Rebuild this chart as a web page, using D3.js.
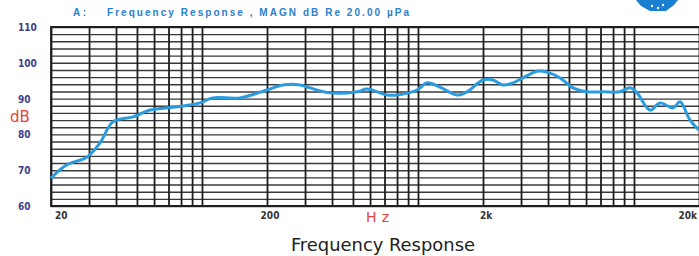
<!DOCTYPE html>
<html>
<head>
<meta charset="utf-8">
<script src="https://cdn.jsdelivr.net/npm/d3@7"></script>
<style>
  body { margin: 0; background: #fff; }
  svg { display: block; }
</style>
</head>
<body>
<svg id="chart" width="699" height="256"></svg>
<script>
var freqs = [20, 23.7, 29.4, 33.7, 38.7, 47.9, 57.5, 76.6, 98, 112, 150, 200, 237, 284, 316, 391,
  522, 581, 719, 800, 990, 1100, 1264, 1516, 1686, 2000, 2224, 2477, 2754, 3062, 3594, 3957,
  4546, 5222, 6060, 7186, 8612, 9586, 10328, 11858, 13196, 15158, 16340, 18172, 20000];
var dbs = [67.8, 71.5, 73.7, 77.6, 83.5, 84.9, 86.8, 87.7, 88.8, 90.2, 90.2, 92.4, 93.8, 93.8, 93, 91.6,
  91.9, 92.7, 91, 91, 92.4, 94.4, 93.2, 91, 91.9, 95.2, 95.2, 93.8, 94.4, 95.8, 97.7, 97.4,
  95.8, 93, 91.9, 91.9, 91.9, 93, 91.6, 86.8, 88.8, 87.4, 89.1, 84, 81.2];

var gridFreqs = [20, 30, 40, 50, 60, 70, 80, 90, 100, 200, 300, 400, 500, 600, 700, 800, 900,
  1000, 2000, 3000, 4000, 5000, 6000, 7000, 8000, 9000, 10000, 20000];
var gridDbs = d3.range(60, 111, 2);
var yLabels = [60, 70, 80, 90, 100, 110];
var xLabels = [20, 200, 2000, 20000];
var xLabelText = ["20", "200", "2k", "20k"];

var plotL = 51, plotR = 699, plotT = 27, plotB = 206;

var svg = d3.select("#chart");

var x = d3.scaleLog().domain([20, 20000]).range([plotL, plotR]);
var y = d3.scaleLinear().domain([60, 110]).range([plotB, plotT]);

// horizontal grid
svg.append("g")
  .attr("transform", "translate(" + plotL + ",0)")
  .call(d3.axisRight(y).tickValues(gridDbs).tickSize(plotR - plotL).tickFormat(""))
  .call(function (g) {
    g.select(".domain").remove();
    g.selectAll("line").attr("stroke", "#3a3a3a").attr("stroke-width", 1.4);
  });

// vertical grid
svg.append("g")
  .attr("transform", "translate(0," + plotT + ")")
  .call(d3.axisBottom(x).tickValues(gridFreqs).tickSize(plotB - plotT).tickFormat(""))
  .call(function (g) {
    g.select(".domain").remove();
    g.selectAll("line").attr("stroke", "#1e1e1e").attr("stroke-width", 1.8);
  });

// frame
svg.append("path")
  .attr("d", "M" + plotR + "," + plotT + "H" + plotL + "V" + plotB + "H" + plotR)
  .attr("fill", "none")
  .attr("stroke", "#1e1e1e")
  .attr("stroke-width", 1.8);

// y labels
svg.append("g")
  .selectAll("text")
  .data(yLabels)
  .enter()
  .append("text")
  .attr("x", 18)
  .attr("y", function (d) { return y(d) + 4; })
  .attr("font-family", "DejaVu Sans Condensed, DejaVu Sans, sans-serif")
  .attr("font-weight", "bold")
  .attr("font-size", 10)
  .attr("fill", "#3d3d8e")
  .text(function (d) { return d; });

// x labels
svg.append("g")
  .selectAll("text")
  .data(xLabels)
  .enter()
  .append("text")
  .attr("x", function (d, i) { return i === 0 ? x(d) + 4 : (i === 3 ? x(d) - 2 : x(d) + 3); })
  .attr("y", 219)
  .attr("text-anchor", function (d, i) { return i === 0 ? "start" : (i === 3 ? "end" : "middle"); })
  .attr("font-family", "DejaVu Sans Condensed, DejaVu Sans, sans-serif")
  .attr("font-weight", "bold")
  .attr("font-size", 10)
  .attr("fill", "#333")
  .text(function (d, i) { return xLabelText[i]; });

// response curve
var line = d3.line()
  .x(function (d, i) { return x(freqs[i]); })
  .y(function (d) { return y(d); })
  .curve(d3.curveCatmullRom);

svg.append("path")
  .datum(dbs)
  .attr("d", line)
  .attr("fill", "none")
  .attr("stroke", "#2b9be0")
  .attr("stroke-width", 3)
  .attr("stroke-linejoin", "round");

// titles
svg.append("text")
  .attr("x", 73).attr("y", 16)
  .attr("font-family", "Liberation Sans, sans-serif")
  .attr("font-weight", "bold").attr("font-size", 10)
  .attr("fill", "#2a80cc")
  .text("A :");

svg.append("text")
  .attr("x", 107).attr("y", 16)
  .attr("font-family", "Liberation Sans, sans-serif")
  .attr("font-weight", "bold").attr("font-size", 10)
  .attr("fill", "#2a80cc")
  .attr("textLength", 302).attr("lengthAdjust", "spacing")
  .text("Frequency Response , MAGN dB  Re 20.00 \u00b5Pa");

svg.append("text")
  .attr("x", 10).attr("y", 122)
  .attr("font-family", "DejaVu Sans, sans-serif")
  .attr("font-size", 15)
  .attr("fill", "#e2453c")
  .text("dB");

svg.append("text")
  .attr("x", 366).attr("y", 222)
  .attr("font-family", "DejaVu Sans, sans-serif")
  .attr("font-size", 14)
  .attr("fill", "#e2453c")
  .attr("textLength", 23).attr("lengthAdjust", "spacing")
  .text("Hz");

svg.append("text")
  .attr("x", 291).attr("y", 251)
  .attr("font-family", "DejaVu Sans Condensed, DejaVu Sans, sans-serif")
  .attr("font-size", 17)
  .attr("fill", "#222")
  .attr("textLength", 184).attr("lengthAdjust", "spacingAndGlyphs")
  .text("Frequency Response");

// logo fragment in the corner
svg.append("path")
  .attr("d", "M636,0 L678,0 L674,5 L666,11 L650,11 L641,6 Z")
  .attr("fill", "#1a7fd0");
svg.append("g")
  .selectAll("circle")
  .data([[652, 6], [658, 8], [663, 5]])
  .enter()
  .append("circle")
  .attr("cx", function (d) { return d[0]; })
  .attr("cy", function (d) { return d[1]; })
  .attr("r", 1.2)
  .attr("fill", "#fff");
</script>
</body>
</html>
